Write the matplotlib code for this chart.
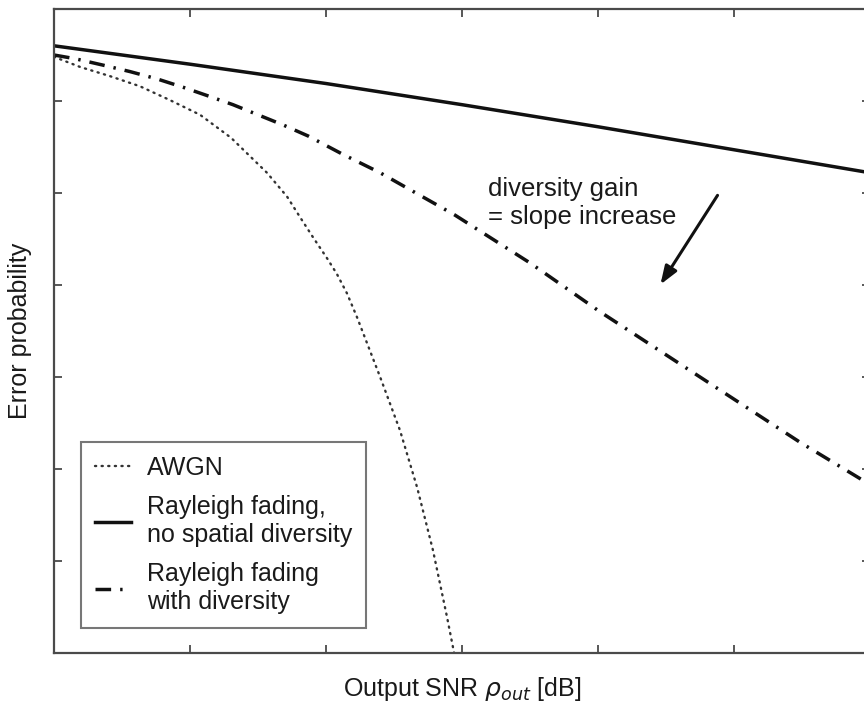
import matplotlib.pyplot as plt
import numpy as np

# Valeurs (SNR en dB, log10 de la probabilité d'erreur)
snr_awgn = [0, 0.96, 2.06, 3.16, 4.26, 5.37, 6.51, 7.83, 8.57, 9.04, 9.52, 10.04,
            10.40, 10.77, 11.14, 11.99, 12.72, 13.35, 13.93, 14.45, 14.71, 14.8]
log_pe_awgn = [-0.52, -0.63, -0.73, -0.84, -0.99, -1.15, -1.40, -1.78, -2.04, -2.26, -2.48, -2.71,
               -2.88, -3.09, -3.35, -4.00, -4.58, -5.20, -5.88, -6.61, -7.00, -7.12]

snr_ray = [0, 5, 10, 15, 20, 25, 30]
log_pe_ray = [-0.40, -0.60, -0.81, -1.04, -1.28, -1.53, -1.78]

snr_div = [0, 0.77, 1.80, 2.79, 3.79, 4.74, 5.62, 6.58, 8.42, 9.34, 10.62, 11.99,
           14.74, 17.5, 20.07, 23.75, 27.43, 30]
log_pe_div = [-0.50, -0.54, -0.61, -0.68, -0.76, -0.85, -0.94, -1.04, -1.26, -1.38, -1.58, -1.78,
              -2.24, -2.76, -3.29, -4.00, -4.71, -5.17]

x_ticks = [0, 5, 10, 15, 20, 25, 30]
y_ticks = [1e-7, 1e-6, 1e-5, 1e-4, 1e-3, 1e-2, 1e-1, 1]

plt.rcParams['font.family'] = ['Liberation Sans', 'DejaVu Sans']
txt = '#1a1a1a'
spine_col = '#4a4a4a'

fig = plt.figure(figsize=(8.64, 7.02), dpi=100)
ax = fig.add_axes([54/864, 49/702, 816/864, 644/702])

ax.semilogy(snr_awgn, 10**np.array(log_pe_awgn), color='#333333', lw=1.7,
            linestyle=(0, (0.5, 2.3)), dash_capstyle='round', label='AWGN')
ax.semilogy(snr_ray, 10**np.array(log_pe_ray), color='#111111', lw=2.5,
            label='Rayleigh fading,\nno spatial diversity')
ax.semilogy(snr_div, 10**np.array(log_pe_div), color='#111111', lw=2.5,
            linestyle=(0, (4.5, 2.6, 0.7, 2.6)), label='Rayleigh fading\nwith diversity')

ax.set_xlim(0, 30)
ax.set_ylim(1e-7, 1)
ax.set_xticks(x_ticks)
ax.set_yticks(y_ticks)
ax.minorticks_off()
ax.set_xticklabels([])
ax.set_yticklabels([])
ax.tick_params(direction='in', length=6, width=1.3, colors=spine_col,
               top=True, right=True)
for s in ax.spines.values():
    s.set_color(spine_col)
    s.set_linewidth(1.6)

ax.set_xlabel(r'Output SNR $\rho_{out}$ [dB]', fontsize=18, color=txt, labelpad=12)
ax.set_ylabel('Error probability', fontsize=18, color=txt, labelpad=12)

ax.text(15.95, 10**-2.11, 'diversity gain\n= slope increase', fontsize=18.5,
        color=txt, ha='left', va='center', linespacing=1.2)
ax.annotate('', xy=(22.24, 10**-3.02), xytext=(24.45, 10**-2.0),
            arrowprops=dict(arrowstyle='-|>,head_length=1.1,head_width=0.4',
                            color='#111111', lw=2.2))

leg = ax.legend(loc='lower left', bbox_to_anchor=(27/816, 25/644), fontsize=18,
                frameon=True, fancybox=False, handlelength=1.45, handletextpad=0.65,
                borderpad=0.55, labelspacing=0.62, borderaxespad=0)
leg.get_frame().set_edgecolor('#555555')
leg.get_frame().set_linewidth(1.5)
for t in leg.get_texts():
    t.set_color(txt)

fig.savefig('out.png', dpi=100)
